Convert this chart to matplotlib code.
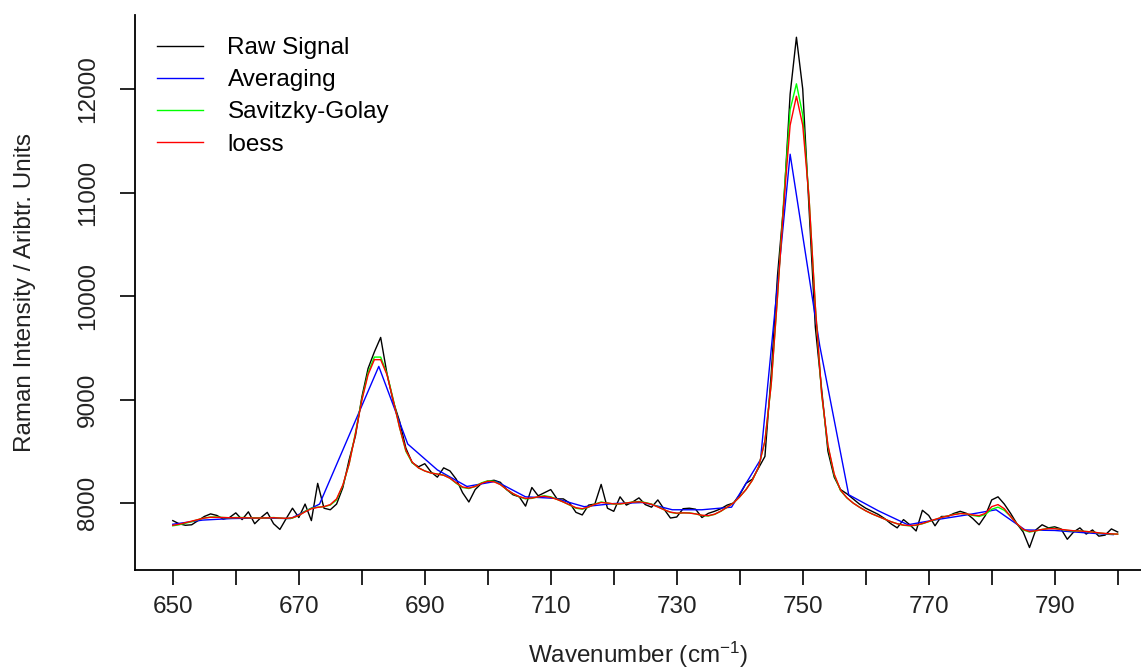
import numpy as np
import matplotlib.pyplot as plt

# spectrum sampled every 1 cm^-1
wavenumber = np.arange(650, 801)

raw_signal = [
    7830, 7800, 7785, 7790, 7830, 7870, 7895, 7880, 7845, 7860,
    7905, 7840, 7915, 7800, 7860, 7910, 7800, 7745, 7850, 7950,
    7860, 7990, 7830, 8190, 7950, 7935, 7990, 8150, 8420, 8650,
    9020, 9300, 9460, 9600, 9250, 8980, 8790, 8530, 8390, 8350,
    8380, 8300, 8250, 8340, 8310, 8230, 8100, 8010, 8130, 8190,
    8210, 8220, 8200, 8130, 8080, 8060, 7970, 8150, 8070, 8100,
    8130, 8040, 8040, 8000, 7910, 7885, 7980, 7990, 8180, 7950,
    7920, 8060, 7980, 8010, 8050, 7985, 7960, 8030, 7940, 7855,
    7865, 7945, 7950, 7940, 7860, 7900, 7920, 7945, 7980, 8000,
    8080, 8190, 8230, 8340, 8450, 9250, 10200, 10900, 11950, 12500,
    12000, 10850, 9700, 9100, 8500, 8250, 8130, 8090, 8040, 7990,
    7950, 7920, 7890, 7850, 7800, 7760, 7840, 7790, 7730, 7930,
    7880, 7780, 7870, 7870, 7900, 7920, 7900, 7850, 7790, 7880,
    8030, 8060, 7990, 7900, 7800, 7720, 7570, 7740, 7790, 7760,
    7770, 7750, 7650, 7720, 7760, 7700, 7740, 7680, 7690, 7750,
    7720,
]

savgol = [
    7780, 7790, 7805, 7820, 7840, 7855, 7865, 7865, 7860, 7858,
    7860, 7860, 7858, 7855, 7855, 7858, 7860, 7855, 7850, 7855,
    7880, 7920, 7950, 7960, 7965, 7980, 8030, 8170, 8380, 8680,
    9000, 9260, 9410, 9410, 9250, 9000, 8730, 8500, 8390, 8340,
    8310, 8290, 8280, 8270, 8240, 8190, 8150, 8140, 8160, 8195,
    8215, 8210, 8180, 8130, 8090, 8060, 8040, 8045, 8060, 8070,
    8060, 8035, 8010, 7980, 7950, 7940, 7960, 7990, 8010, 8000,
    7990, 7990, 8000, 8010, 8015, 8005, 7990, 7965, 7935, 7910,
    7900, 7905, 7905, 7895, 7880, 7875, 7890, 7920, 7960, 8000,
    8060, 8130, 8220, 8350, 8600, 9150, 10000, 10950, 11800, 12050,
    11750, 10950, 9900, 9050, 8550, 8270, 8120, 8050, 8000, 7960,
    7925, 7895, 7870, 7845, 7820, 7800, 7785, 7780, 7785, 7800,
    7820, 7840, 7860, 7875, 7890, 7900, 7895, 7880, 7870, 7890,
    7940, 7960, 7930, 7870, 7800, 7740, 7720, 7730, 7745, 7755,
    7755, 7745, 7735, 7730, 7730, 7725, 7720, 7710, 7705, 7700,
    7700,
]

loess = [
    7785, 7795, 7810, 7825, 7840, 7855, 7862, 7862, 7860, 7858,
    7858, 7858, 7857, 7855, 7855, 7857, 7858, 7855, 7852, 7858,
    7880, 7915, 7945, 7958, 7965, 7985, 8040, 8175, 8380, 8670,
    8990, 9240, 9385, 9385, 9240, 8990, 8730, 8510, 8395, 8340,
    8310, 8290, 8280, 8268, 8240, 8195, 8155, 8145, 8160, 8190,
    8210, 8205, 8178, 8132, 8092, 8062, 8045, 8048, 8060, 8065,
    8055, 8035, 8010, 7982, 7955, 7945, 7962, 7988, 8005, 8000,
    7992, 7992, 8000, 8008, 8012, 8002, 7988, 7962, 7935, 7912,
    7902, 7905, 7903, 7895, 7882, 7878, 7892, 7922, 7960, 8000,
    8060, 8130, 8220, 8350, 8600, 9150, 10000, 10900, 11650, 11930,
    11650, 10950, 9900, 9060, 8560, 8280, 8125, 8052, 8000, 7960,
    7925, 7895, 7870, 7845, 7820, 7800, 7787, 7782, 7787, 7802,
    7822, 7842, 7860, 7875, 7888, 7898, 7895, 7885, 7878, 7900,
    7965, 7985, 7945, 7870, 7800, 7745, 7725, 7732, 7745, 7752,
    7752, 7745, 7738, 7732, 7730, 7725, 7720, 7712, 7706, 7702,
    7700,
]

# block averages, one point per 14/3 cm^-1
avg_wavenumber = [650.0, 654.7, 659.3, 664.0, 668.7, 673.3, 678.0, 682.7,
                  687.3, 692.0, 696.7, 701.3, 706.0, 710.7, 715.3, 720.0,
                  724.7, 729.3, 734.0, 738.7, 743.3, 748.0, 752.7, 757.3,
                  762.0, 766.7, 771.3, 776.0, 780.7, 785.3, 790.0, 794.7,
                  799.3]
avg_intensity = [7795, 7835, 7850, 7855, 7850, 7990, 8655, 9320,
                 8570, 8320, 8160, 8210, 8060, 8045, 7965, 7995,
                 8005, 7935, 7935, 7960, 8420, 11370, 9520, 8080,
                 7925, 7790, 7840, 7885, 7935, 7740, 7735, 7713,
                 7695]

x_ticks = list(range(650, 801, 10))
y_ticks = [8000, 9000, 10000, 11000, 12000]

plt.rcParams['font.family'] = ['Liberation Sans', 'DejaVu Sans']
plt.rcParams['mathtext.fontset'] = 'custom'
plt.rcParams['mathtext.rm'] = 'Liberation Sans'
plt.rcParams['mathtext.it'] = 'Liberation Sans:italic'

fs = 17.5
fig = plt.figure(figsize=(11.41, 6.71), dpi=100)
ax = fig.add_axes([135 / 1141, 101 / 671, 1006 / 1141, 555 / 671])

ax.plot(wavenumber, raw_signal, color='black', lw=1.0, label='Raw Signal')
ax.plot(avg_wavenumber, avg_intensity, color='#0000ff', lw=1.0, label='Averaging')
ax.plot(wavenumber, savgol, color='#00ff00', lw=1.0, label='Savitzky-Golay')
ax.plot(wavenumber, loess, color='#ff0000', lw=1.0, label='loess')

ax.set_xlim(644, 803.7)
ax.set_ylim(7353, 12715)

for side in ['top', 'right']:
    ax.spines[side].set_visible(False)
for side in ['left', 'bottom']:
    ax.spines[side].set_linewidth(1.3)

ax.set_xticks(x_ticks)
ax.set_xticklabels([str(t) if (t - 650) % 20 == 0 else '' for t in x_ticks])
ax.set_yticks(y_ticks)
ax.set_yticklabels([str(t) for t in y_ticks])
ax.tick_params(direction='out', length=11, width=1.2, labelsize=fs, pad=8,
               colors='black', labelcolor='#222222')
ax.tick_params(axis='y', pad=15)
for lab in ax.get_yticklabels():
    lab.set_rotation(90)
    lab.set_va('center')

ax.set_xlabel('Wavenumber (cm$^{-1}$)', fontsize=fs, color='#222222')
ax.xaxis.set_label_coords(0.5, -0.126)
ax.set_ylabel('Raman Intensity / Aribtr. Units', fontsize=fs, color='#222222')
ax.yaxis.set_label_coords(-0.098, 0.5)

ax.legend(loc='upper left', bbox_to_anchor=(157 / 1141, 1 - 37 / 671),
          bbox_transform=fig.transFigure, frameon=False, fontsize=fs,
          handlelength=1.9, handletextpad=1.0, labelspacing=0.42,
          borderpad=0, borderaxespad=0)

fig.savefig('out.png', dpi=100)
